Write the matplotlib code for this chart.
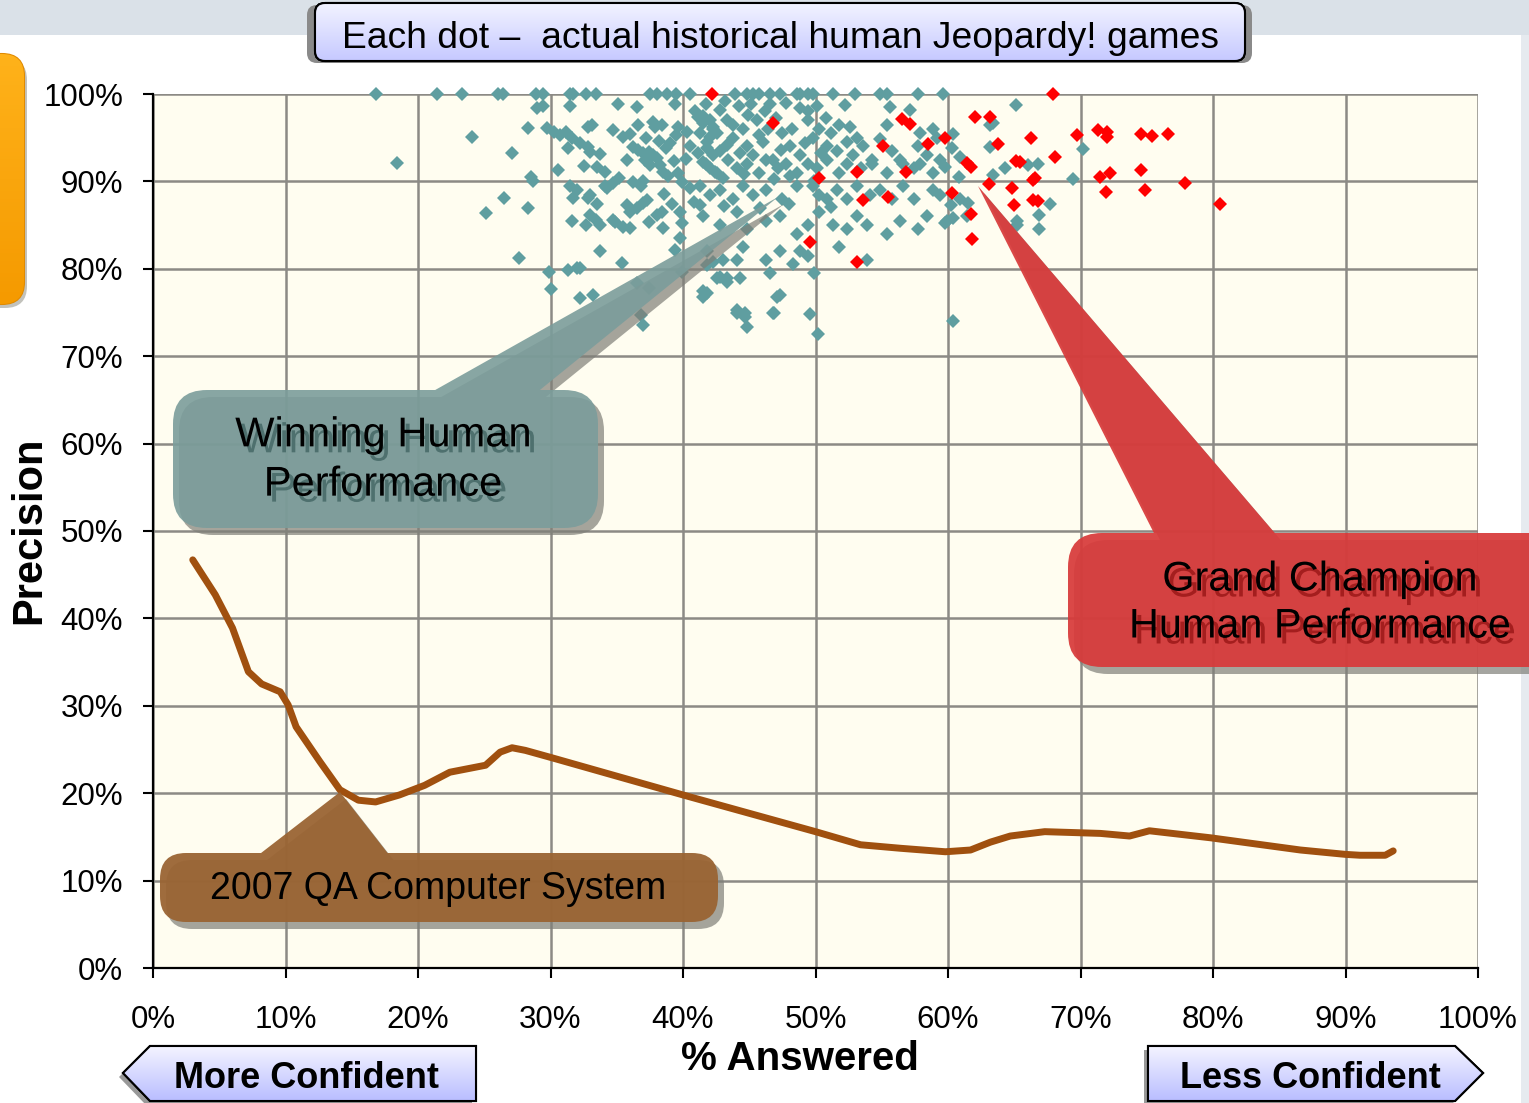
import numpy as np
import matplotlib
matplotlib.use('Agg')
import matplotlib.pyplot as plt
import matplotlib.patheffects as pe
from matplotlib.path import Path
from matplotlib.patches import PathPatch, BoxStyle, Polygon, FancyBboxPatch, Rectangle

plt.rcParams['font.family'] = ['Liberation Sans', 'DejaVu Sans']

W, H = 1529, 1103

# historical human games (% answered, precision)
human_games = [
    # games at 100% precision
    (16.8, 100), (21.4, 100), (23.3, 100), (26.0, 100), (26.4, 100), (28.9, 100), (29.4, 100),
    (31.5, 100), (31.7, 100), (32.7, 100), (33.4, 100), (37.5, 100), (38.0, 100), (38.8, 100),
    (39.5, 100), (40.5, 100), (43.9, 100), (44.8, 100), (45.3, 100), (45.7, 100), (46.6, 100),
    (47.3, 100), (48.6, 100), (48.8, 100), (49.4, 100), (49.8, 100), (51.3, 100), (53.0, 100),
    (54.9, 100), (55.4, 100), (57.7, 100), (59.6, 100),
    # sparse left edge
    (18.4, 92.1), (24.1, 95.1), (27.1, 93.2), (28.5, 90.5), (28.7, 90.0), (26.5, 88.1), (25.1, 86.4),
    (28.3, 87.0), (27.6, 81.2), (29.9, 79.6), (30.0, 77.7), (29.0, 98.4), (29.4, 98.6), (28.3, 96.1),
    # 30-35 %
    (29.7, 96.1), (30.3, 95.7), (30.7, 95.3), (31.2, 95.7), (31.6, 95.0), (31.5, 98.6), (31.3, 93.8),
    (30.6, 91.3), (32.2, 94.4), (32.8, 93.9), (33.0, 93.4), (32.8, 96.2), (33.1, 96.5), (33.7, 93.1),
    (33.5, 91.7), (34.1, 91.1), (32.5, 91.8), (31.5, 89.5), (32.0, 89.0), (31.7, 88.1), (32.8, 88.1),
    (33.0, 88.4), (33.5, 87.4), (33.0, 86.2), (33.4, 85.6), (33.7, 85.0), (31.6, 85.5), (33.7, 82.0),
    (31.3, 79.9), (32.0, 80.1), (32.2, 80.1), (32.2, 76.7), (33.2, 77.0), (34.7, 85.6), (34.1, 89.5),
    (34.3, 89.2), (34.7, 89.8), (34.7, 95.9), (35.1, 98.9), (35.5, 95.1), (35.2, 90.4), (35.8, 92.4),
    # 35-40 %
    (36.5, 98.5), (36.6, 96.5), (36.2, 93.9), (36.6, 93.6), (37.0, 93.2), (37.4, 93.4), (37.7, 93.0),
    (37.1, 92.4), (37.5, 91.9), (38.0, 92.7), (38.3, 91.9), (38.5, 91.1), (36.2, 89.9), (36.8, 89.5),
    (37.0, 90.1), (35.8, 87.3), (36.0, 86.5), (36.5, 87.0), (37.0, 87.5), (37.3, 87.9), (35.5, 84.8),
    (36.0, 84.7), (37.4, 85.4), (38.0, 86.2), (38.4, 86.5), (38.5, 84.7), (37.7, 96.8), (37.9, 96.2),
    (38.4, 96.5), (39.0, 94.4), (39.5, 95.3), (39.6, 96.2), (39.4, 98.9), (39.9, 89.9), (40.5, 89.2),
    (40.8, 87.6), (41.3, 87.3), (39.8, 86.5), (39.9, 85.2), (39.8, 83.5), (36.8, 74.7), (37.0, 73.6),
    (41.5, 76.8), (41.8, 77.2), (38.9, 90.6), (39.3, 92.3), (38.7, 93.8), (40.2, 92.6), (39.6, 91.0),
    (36.0, 95.4), (37.2, 95.0), (38.2, 94.6), (40.3, 95.7), (40.9, 98.1), (38.6, 88.6), (39.2, 87.4),
    # 40-43 %
    (41.1, 97.4), (41.5, 96.7), (42.0, 97.0), (42.3, 96.2), (41.3, 95.5), (42.0, 95.1), (42.6, 95.5),
    (40.5, 94.1), (41.1, 93.3), (41.8, 93.8), (42.3, 93.0), (41.5, 92.2), (42.0, 91.5), (42.4, 91.1),
    (41.8, 80.4), (42.3, 80.8),
    # lower spread 32-47 %
    (32.7, 85.0), (34.9, 85.4), (35.4, 80.7), (36.5, 78.4), (37.4, 77.8), (39.4, 82.2), (39.9, 79.6),
    (42.8, 79.1), (43.3, 78.9), (44.1, 81.0), (44.1, 75.3), (44.7, 74.9), (44.8, 73.3), (47.1, 76.8),
    (46.8, 74.9),
    # 41-60 %, near 98.5 %
    (41.7, 98.8), (42.8, 98.2), (44.2, 98.6), (46.2, 98.0), (46.6, 98.8), (48.8, 98.4), (49.4, 98.0),
    (50.1, 98.6), (55.6, 98.5), (57.1, 98.2), (43.2, 99.2), (45.1, 98.9), (47.8, 99.0), (52.2, 98.7),
    # near 96.5 %
    (41.5, 97.5), (42.3, 96.0), (43.3, 97.0), (43.8, 96.5), (44.5, 96.0), (45.6, 97.0), (46.4, 96.0),
    (47.5, 95.5), (48.2, 96.0), (49.4, 97.0), (50.3, 96.0), (51.2, 95.5), (51.8, 96.5), (53.1, 95.0),
    (55.4, 96.5), (57.9, 95.5), (58.9, 96.0), (44.9, 97.6), (47.0, 97.2), (50.8, 97.3), (52.6, 96.2),
    # near 94 %
    (41.8, 94.5), (42.8, 93.5), (43.8, 95.0), (44.8, 94.0), (45.3, 93.0), (46.0, 94.5), (46.8, 92.5),
    (48.1, 94.0), (48.8, 93.0), (49.8, 95.0), (50.9, 94.0), (51.6, 93.5), (52.4, 94.5), (52.8, 93.0),
    (53.6, 94.0), (54.3, 92.5), (55.8, 93.5), (56.6, 92.0), (57.7, 94.0), (58.4, 93.0), (59.2, 95.0),
    (43.3, 94.2), (44.3, 93.2), (45.7, 95.3), (47.4, 93.6), (49.2, 94.4), (50.4, 93.2), (54.9, 94.8),
    # near 91.5 %
    (41.7, 92.0), (42.6, 91.0), (43.4, 92.5), (44.1, 91.5), (44.8, 92.0), (45.7, 91.0), (46.3, 92.5),
    (47.2, 91.5), (47.8, 92.0), (48.6, 91.0), (49.4, 92.0), (50.1, 91.5), (50.9, 92.5), (51.8, 91.0),
    (52.4, 92.0), (53.4, 91.5), (54.3, 92.0), (55.4, 91.0), (56.4, 92.5), (57.4, 91.5), (57.9, 92.0),
    (58.9, 91.0), (59.4, 92.5), (43.0, 90.4), (44.6, 90.8), (46.9, 90.3), (48.1, 90.6), (49.9, 90.1),
    # near 88.5 %
    (41.3, 89.5), (42.0, 88.5), (42.8, 89.0), (43.8, 88.0), (44.5, 89.5), (45.3, 88.5), (46.3, 89.0),
    (47.5, 88.0), (48.6, 89.5), (49.8, 89.5), (50.3, 88.5), (50.9, 88.0), (51.6, 89.0), (52.4, 88.0),
    (53.1, 89.5), (54.1, 88.5), (54.9, 89.0), (55.8, 88.0), (56.6, 89.5), (57.4, 88.0), (58.9, 89.0),
    (59.4, 88.5), (60.9, 88.0), (43.1, 87.2), (45.8, 87.0), (48.0, 87.4), (51.2, 87.1),
    # near 85.5 %
    (41.5, 86.0), (42.8, 85.0), (44.1, 86.5), (44.8, 84.5), (46.3, 85.5), (47.3, 86.0), (48.6, 84.0),
    (49.4, 85.0), (50.3, 86.5), (51.3, 85.0), (52.4, 84.5), (53.1, 86.0), (53.9, 85.0), (55.4, 84.0),
    (56.4, 85.5), (57.7, 84.5), (58.4, 86.0), (59.9, 85.5), (61.4, 86.0), (65.2, 85.0), (66.9, 84.5),
    # near 81.5 %
    (41.8, 82.0), (43.0, 81.0), (44.5, 82.5), (46.3, 81.0), (47.3, 82.0), (48.3, 80.5), (48.8, 82.0),
    (49.4, 81.5), (51.8, 82.5), (53.9, 81.0),
    # near 78 %
    (41.5, 77.5), (42.6, 79.0), (43.3, 78.5), (44.3, 79.0), (46.6, 79.5), (47.3, 77.0), (49.9, 79.5),
    # near 74 %
    (44.1, 75.0), (44.7, 74.5), (46.9, 75.0), (49.6, 74.8), (50.2, 72.5), (60.4, 74.0),
    # 59-70 %
    (65.1, 98.7), (63.2, 96.5), (63.4, 96.7), (60.4, 95.4), (60.3, 93.8), (60.9, 92.8), (63.2, 93.9),
    (59.8, 91.6), (64.3, 91.5), (66.0, 91.9), (66.8, 92.0), (60.8, 90.5), (63.4, 90.7), (69.4, 90.3),
    (70.2, 93.7), (61.5, 87.5), (60.2, 87.3), (67.7, 87.4), (66.9, 86.2), (65.2, 85.5), (60.4, 85.8),
    (59.8, 85.2),
]

# grand champion games (% answered, precision)
champion_games = [
    (67.9, 100), (62.0, 97.4), (63.2, 97.4), (59.8, 95.0), (66.3, 95.0), (63.8, 94.3), (69.7, 95.3),
    (71.3, 95.9), (72.0, 95.7), (72.0, 95.1), (74.6, 95.4), (75.4, 95.2), (76.6, 95.4), (68.1, 92.8),
    (61.4, 92.1), (61.7, 91.6), (65.1, 92.3), (65.4, 92.2), (66.6, 90.4), (66.4, 90.2), (71.5, 90.5),
    (72.2, 91.0), (74.6, 91.3), (63.1, 89.7), (64.8, 89.2), (71.9, 88.8), (74.9, 89.0), (77.9, 89.8),
    (60.3, 88.7), (65.0, 87.3), (66.4, 87.9), (66.8, 87.8), (80.5, 87.4), (61.7, 86.3), (61.8, 83.4),
    (42.2, 100), (46.8, 96.7), (56.5, 97.1), (57.1, 96.6), (55.1, 94.1), (58.5, 94.3), (53.1, 91.1),
    (56.8, 91.1), (50.3, 90.4), (53.6, 87.9), (55.5, 88.2), (49.6, 83.1), (53.1, 80.8),
]

# 2007 QA computer system curve
system_answered = [3.0, 4.7, 6.0, 7.2, 8.2, 9.6, 10.2, 10.8, 12.6, 14.1, 15.5, 16.8, 18.6, 20.5,
                   22.4, 25.1, 26.2, 27.1, 28.1, 30.0, 40.0, 50.0, 53.4, 56.4, 59.8, 61.7, 63.2,
                   64.7, 67.3, 71.5, 73.7, 75.2, 79.8, 86.6, 90.0, 91.1, 93.0, 93.6]
system_precision = [46.7, 42.7, 38.9, 33.9, 32.5, 31.6, 30.1, 27.6, 23.6, 20.4, 19.2, 19.0, 19.8,
                    20.9, 22.4, 23.2, 24.7, 25.2, 24.9, 24.1, 19.8, 15.6, 14.1, 13.7, 13.3, 13.5,
                    14.4, 15.1, 15.6, 15.4, 15.1, 15.7, 14.9, 13.5, 13.0, 12.9, 12.9, 13.4]

ticks = list(range(0, 101, 10))
tick_labels = ['{}%'.format(t) for t in ticks]

fig = plt.figure(figsize=(W / 100, H / 100), dpi=100)
fig.patch.set_facecolor('white')

ax = fig.add_axes([153 / W, 1 - 968 / H, 1325 / W, 874 / H])
ax.set_facecolor('#FFFDF0')
ax.set_xlim(0, 100)
ax.set_ylim(0, 100)
ax.set_xticks(ticks)
ax.set_yticks(ticks)
ax.set_xticklabels(tick_labels, fontsize=22.5)
ax.set_yticklabels(tick_labels, fontsize=22.5)
ax.tick_params(axis='x', length=7.5, width=1.5, pad=19)
ax.tick_params(axis='y', length=7.5, width=1.5, pad=14)
ax.grid(True, color='#8C8A85', lw=1.8)
ax.set_axisbelow(True)
for s in ['top', 'right']:
    ax.spines[s].set_visible(False)
for s in ['left', 'bottom']:
    ax.spines[s].set_linewidth(1.6)
    ax.spines[s].set_zorder(6)

ax.plot(system_answered, system_precision, color='#A0500F', lw=5,
        solid_capstyle='round', solid_joinstyle='round', zorder=3)
hx, hy = zip(*human_games)
ax.plot(hx, hy, ls='none', marker='D', ms=7.5, mew=0, color='#5F9EA0', clip_on=False, zorder=4)
cx, cy = zip(*champion_games)
ax.plot(cx, cy, ls='none', marker='D', ms=7.5, mew=0, color='#FF0000', clip_on=False, zorder=5)

ax.set_xlabel('% Answered', fontsize=29, fontweight='bold')
ax.set_ylabel('Precision', fontsize=30, fontweight='bold')
ax.xaxis.set_label_coords(0.488, -0.082)
ax.yaxis.set_label_coords(-0.078, 0.501)

# overlay in pixel coordinates for the decorations
ov = fig.add_axes([0, 0, 1, 1], zorder=5)
ov.patch.set_alpha(0)
ov.axis('off')


def signed_area(v):
    x, y = v[:, 0], v[:, 1]
    return 0.5 * np.sum(x * np.roll(y, -1) - np.roll(x, -1) * y)


def callout_path(x0, y0, w, h, r, tri, dx=0, dy=0):
    box = BoxStyle.Round(pad=0, rounding_size=r)(x0 + dx, y0 + dy, w, h, 1.0)
    t = np.array(tri, float) + [dx, dy]
    if np.sign(signed_area(t)) != np.sign(signed_area(box.vertices[:-1])):
        t = t[::-1]
    tp = Path(np.vstack([t, t[:1]]), [Path.MOVETO, Path.LINETO, Path.LINETO, Path.CLOSEPOLY])
    return Path.make_compound_path(box, tp)


def callout(x0, y0, w, h, r, tri, face, alpha):
    ov.add_patch(PathPatch(callout_path(x0, y0, w, h, r, tri, 6, 7), fc='#7F7F78', ec='none',
                           alpha=0.7, zorder=1))
    ov.add_patch(PathPatch(callout_path(x0, y0, w, h, r, tri), fc=face, ec='none',
                           alpha=alpha, zorder=2))


def shadow_text(x, y, s, size, shade):
    ov.text(x, y, s, fontsize=size, color='black', ha='center', va='center',
            linespacing=1.3, zorder=4,
            path_effects=[pe.SimplePatchShadow(offset=(3.6, -4.3), shadow_rgbFace=shade, alpha=1),
                          pe.Normal()])


def gradient_patch(patch, top, bottom, x0, x1, y0, y1):
    ov.add_patch(patch)
    grad = np.linspace(np.array(top), np.array(bottom), 64)[:, None, :]
    im = ov.imshow(grad, extent=[x0, x1, y1, y0], origin='upper', aspect='auto',
                   zorder=patch.get_zorder())
    im.set_clip_path(patch)
    return im


def rgb(h):
    return [int(h[i:i + 2], 16) / 255 for i in (1, 3, 5)]


# top band and right strip
ov.add_patch(Rectangle((0, 0), W, 35, fc='#DAE1E8', ec='none', zorder=0))
ov.add_patch(Rectangle((1521, 35), 8, H, fc='#E6EAEF', ec='none', zorder=0))

# orange tab at the left
ov.add_patch(FancyBboxPatch((-30, 58), 57, 250, boxstyle='round,pad=0,rounding_size=22',
                            fc='#9A9A90', ec='none', alpha=0.6, zorder=1))
tab = FancyBboxPatch((-30, 54), 54, 250, boxstyle='round,pad=0,rounding_size=22',
                     fc='none', ec='#E08A00', lw=1.5, zorder=2)
gradient_patch(tab, rgb('#FFB21A'), rgb('#F59A00'), -30, 24, 54, 304)

# title box
ov.add_patch(FancyBboxPatch((307, 5), 945, 58, boxstyle='round,pad=0,rounding_size=10',
                            fc='#8A8A8A', ec='none', zorder=1))
title_box = FancyBboxPatch((315, 3), 930, 58, boxstyle='round,pad=0,rounding_size=10',
                           fc='none', ec='black', lw=1.5, zorder=2)
gradient_patch(title_box, rgb('#F2F3FF'), rgb('#C6C9FF'), 315, 1245, 3, 61)
ov.add_patch(FancyBboxPatch((315, 3), 930, 58, boxstyle='round,pad=0,rounding_size=10',
                            fc='none', ec='black', lw=1.5, zorder=3))
ov.text(780, 38, 'Each dot \u2013  actual historical human Jeopardy! games', fontsize=26.8,
        ha='center', va='center', zorder=4)

# callouts
callout(173, 390, 425, 138, 34, [(421, 398), (778, 197), (530, 398)], '#7B9D9B', 0.9)
shadow_text(383, 460, 'Winning Human\nPerformance', 30, '#4E706E')

callout(1068, 533, 520, 134, 34, [(1160, 545), (978, 186), (1285, 545)], '#D83A3A', 0.93)
shadow_text(1320, 603, 'Grand Champion\nHuman Performance', 29.8, '#A41E1E')

callout(160, 853, 558, 69, 26, [(252, 860), (340, 792), (393, 860)], '#9A6433', 0.95)
ov.text(438, 889, '2007 QA Computer System', fontsize=27, ha='center', va='center', zorder=4)

# confidence arrows
left_pts = [(150, 1046), (476, 1046), (476, 1101), (150, 1101), (123, 1073)]
right_pts = [(1148, 1046), (1455, 1046), (1483, 1073), (1455, 1101), (1148, 1101)]
for pts, label, cxp in [(left_pts, 'More Confident', 307), (right_pts, 'Less Confident', 1310)]:
    ov.add_patch(Polygon([(x - 4, y + 4) for x, y in pts], closed=True, fc='#6E6E6E', ec='none',
                         alpha=0.7, zorder=1))
    arrow = Polygon(pts, closed=True, fc='none', ec='black', lw=1.5, zorder=2)
    xs = [p[0] for p in pts]
    gradient_patch(arrow, rgb('#F4F4FF'), rgb('#B9BDFF'), min(xs), max(xs), 1046, 1101)
    ov.add_patch(Polygon(pts, closed=True, fc='none', ec='black', lw=1.5, zorder=3))
    ov.text(cxp, 1078, label, fontsize=26, fontweight='bold', ha='center', va='center', zorder=4)

ov.set_xlim(0, W)
ov.set_ylim(H, 0)

fig.savefig('out.png', dpi=100)
